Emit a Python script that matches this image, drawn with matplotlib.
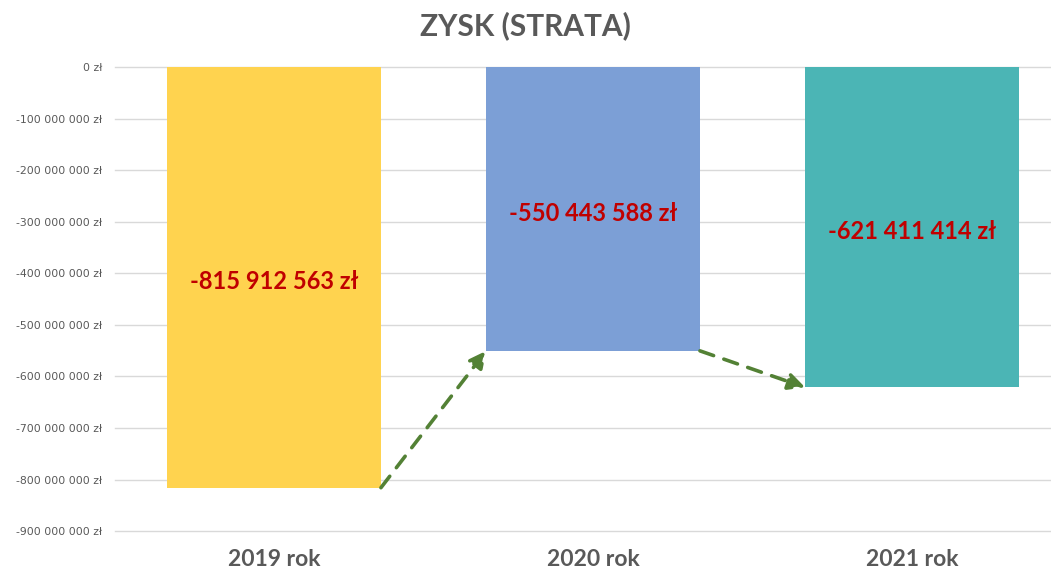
import matplotlib.pyplot as plt
from matplotlib.ticker import FuncFormatter

years = ["2019 rok", "2020 rok", "2021 rok"]
profit = [-815912563, -550443588, -621411414]
bar_colors = ["#FFD34F", "#7C9FD6", "#4BB5B5"]
yticks = [0, -100e6, -200e6, -300e6, -400e6, -500e6, -600e6, -700e6, -800e6, -900e6]


def pln(v, pos=None):
    s = f"{int(round(v)):,}".replace(",", " ")
    return f"{s} zł"


fig = plt.figure(figsize=(10.51, 5.76), dpi=100)
ax = fig.add_axes([0.109, 0.078, 0.9106, 0.8056])

x = list(range(len(years)))
w = 0.67
ax.bar(x, profit, width=w, color=bar_colors, zorder=2)

for xi, v in zip(x, profit):
    ax.text(xi, v / 2 - 8e6, pln(v), ha="center", va="center", color="#C00000",
            fontsize=17, fontweight="bold", family="Lato", zorder=3)

# dashed arrows between consecutive bars
for i in range(len(profit) - 1):
    ax.annotate("", xy=(x[i + 1] - w / 2, profit[i + 1]), xytext=(x[i] + w / 2, profit[i]),
                arrowprops=dict(arrowstyle="-|>,head_length=1.0,head_width=0.5",
                                color="#538135", lw=2.6, linestyle=(0, (4, 3)),
                                shrinkA=0, shrinkB=0),
                zorder=4, annotation_clip=False)

ax.set_xlim(-0.5, 2.5)
ax.set_ylim(-900e6, 0)
ax.set_yticks(yticks)
ax.yaxis.set_major_formatter(FuncFormatter(pln))
ax.set_xticks(x)
ax.set_xticklabels(years, fontsize=16.5, fontweight="bold", color="#595959", family="Lato")
ax.tick_params(axis="y", length=0, pad=9, labelsize=7.8, labelcolor="#595959")
ax.tick_params(axis="x", length=0, pad=13)
ax.grid(axis="y", color="#D9D9D9", lw=1, zorder=0)
for gl in ax.get_ygridlines():
    gl.set_clip_on(False)
ax.axhline(0, color="#BFBFBF", lw=1.2, zorder=1)
for s in ax.spines.values():
    s.set_visible(False)

fig.text(0.5, 0.955, "ZYSK (STRATA)", ha="center", va="center", fontsize=21.5,
         fontweight="bold", color="#595959", family="Lato")

fig.savefig("out.png", dpi=100)
